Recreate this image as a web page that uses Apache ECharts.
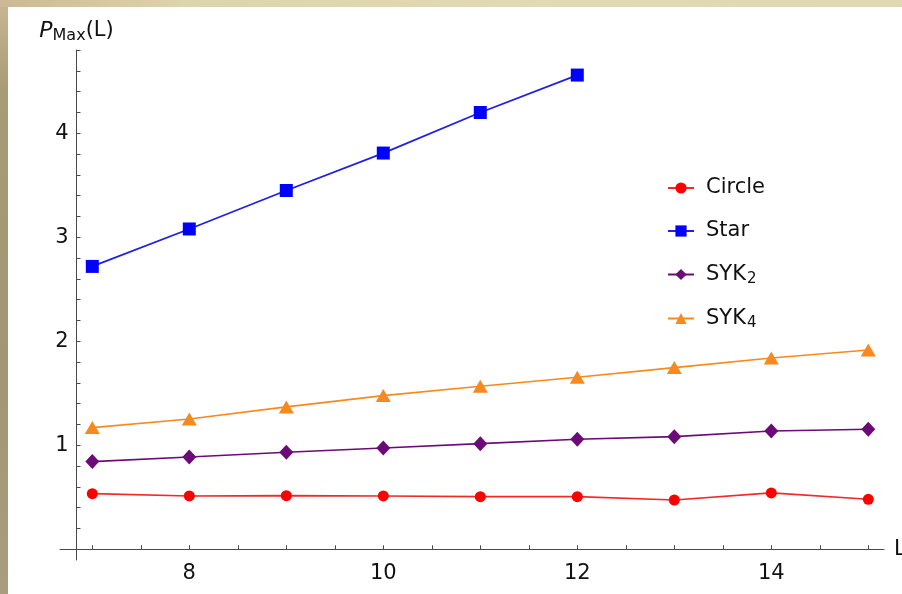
<!DOCTYPE html>
<html>
<head>
<meta charset="utf-8">
<script src="https://cdn.jsdelivr.net/npm/echarts@6/dist/echarts.min.js"></script>
<style>
  html, body { margin: 0; padding: 0; width: 902px; height: 594px; overflow: hidden; }
  body { background: linear-gradient(180deg, #c9b792 0%, #a89b78 15%, #a39674 60%, #a89d7e 100%); position: relative; }
  #topStrip { position: absolute; left: 0; top: 0; width: 902px; height: 7px;
              background: linear-gradient(90deg, #cbb994 0%, #ddd3ac 20%, #e2dab5 60%, #e0d8b2 100%); }
  #chart { position: absolute; left: 8px; top: 7px; width: 894px; height: 587px; background: #ffffff; }
</style>
</head>
<body>
<div id="topStrip"></div>
<div id="chart"></div>
<script>
// System size L on the horizontal axis
const sizes = [7, 8, 9, 10, 11, 12, 13, 14, 15];
const starSizes = [7, 8, 9, 10, 11, 12];

// P_Max(L) for each model
const circleValues = [0.535, 0.513, 0.516, 0.513, 0.506, 0.506, 0.474, 0.542, 0.481];
const starValues   = [2.72, 3.08, 3.45, 3.81, 4.20, 4.56];
const syk2Values   = [0.843, 0.888, 0.933, 0.974, 1.016, 1.058, 1.083, 1.138, 1.154];
const syk4Values   = [1.170, 1.253, 1.369, 1.478, 1.568, 1.654, 1.747, 1.840, 1.917];

// Tick positions and labels
const xTickValues  = [7, 7.5, 8, 8.5, 9, 9.5, 10, 10.5, 11, 11.5, 12, 12.5, 13, 13.5, 14, 14.5, 15];
const xLabelValues = [8, 10, 12, 14];
const yTickValues  = [0.2, 0.4, 0.6, 0.8, 1, 1.2, 1.4, 1.6, 1.8, 2, 2.2, 2.4, 2.6, 2.8, 3, 3.2, 3.4, 3.6, 3.8, 4, 4.2, 4.4, 4.6, 4.8];
const yLabelValues = [1, 2, 3, 4];

const FONT = 'DejaVu Sans';

function pairs(xs, ys) { return xs.map((x, i) => [x, ys[i]]); }

const legendText = { 'Circle': 'Circle', 'Star': 'Star', 'SYK2': 'SYK{sub|2}', 'SYK4': 'SYK{sub|4}' };

const chart = echarts.init(document.getElementById('chart'), null, { renderer: 'canvas' });

const axisColor = '#4a4a4a';

chart.setOption({
  animation: false,
  backgroundColor: '#ffffff',
  grid: { left: 52, right: 18, top: 43, bottom: 34, containLabel: false, outerBoundsMode: 'none' },
  legend: {
    orient: 'vertical',
    left: 659,
    top: 169,
    padding: 0,
    itemGap: 19,
    itemWidth: 26,
    itemHeight: 14,
    data: ['Circle', 'Star', 'SYK2', 'SYK4'],
    formatter: function (name) { return legendText[name]; },
    textStyle: {
      fontFamily: FONT, fontSize: 21, color: '#111', lineHeight: 24,
      padding: [0, 0, 0, 7],
      rich: {
        sub: { fontFamily: FONT, fontSize: 15, color: '#111', padding: [10, 0, 0, 1], lineHeight: 14 }
      }
    }
  },
  xAxis: {
    type: 'value',
    min: 6.667,
    max: 15.162,
    name: 'L',
    nameLocation: 'end',
    nameGap: 10,
    nameTextStyle: { fontFamily: FONT, fontSize: 21, color: '#111', align: 'left', verticalAlign: 'middle' },
    axisLine: { show: true, onZero: true, lineStyle: { color: axisColor, width: 1 } },
    axisTick: { show: true, inside: true, length: 4, customValues: xTickValues, lineStyle: { color: axisColor } },
    axisLabel: { customValues: xLabelValues, fontFamily: FONT, fontSize: 21, color: '#111', margin: 3 },
    splitLine: { show: false }
  },
  yAxis: {
    type: 'value',
    min: -0.103,
    max: 4.801,
    offset: -16.5,
    name: '{it|P}{sub|Max}{n|(L)}',
    nameLocation: 'end',
    nameGap: 6,
    nameTextStyle: {
      align: 'center',
      rich: {
        it: { fontFamily: FONT, fontStyle: 'italic', fontSize: 22, color: '#111', lineHeight: 26 },
        sub: { fontFamily: FONT, fontSize: 16, color: '#111', padding: [9, 0, 0, 0], lineHeight: 26 },
        n: { fontFamily: FONT, fontSize: 21, color: '#111', lineHeight: 26 }
      }
    },
    axisLine: { show: true, onZero: false, lineStyle: { color: axisColor, width: 1 } },
    axisTick: { show: true, inside: true, length: 4, customValues: yTickValues, lineStyle: { color: axisColor } },
    axisLabel: { customValues: yLabelValues, fontFamily: FONT, fontSize: 21, color: '#111', margin: 8 },
    splitLine: { show: false }
  },
  series: [
    {
      name: 'Circle', type: 'line', data: pairs(sizes, circleValues),
      symbol: 'circle', symbolSize: 11, showAllSymbol: true,
      itemStyle: { color: '#ff0000' },
      lineStyle: { color: '#f02a2a', width: 1.6 }
    },
    {
      name: 'Star', type: 'line', data: pairs(starSizes, starValues),
      symbol: 'rect', symbolSize: 13, showAllSymbol: true,
      itemStyle: { color: '#0000ff' },
      lineStyle: { color: '#1f1fe8', width: 1.8 }
    },
    {
      name: 'SYK2', type: 'line', data: pairs(sizes, syk2Values),
      symbol: 'diamond', symbolSize: [14, 15], showAllSymbol: true,
      itemStyle: { color: '#6c0a78' },
      lineStyle: { color: '#6c0a78', width: 1.6 }
    },
    {
      name: 'SYK4', type: 'line', data: pairs(sizes, syk4Values),
      symbol: 'triangle', symbolSize: [15, 13], showAllSymbol: true,
      itemStyle: { color: '#f7891e' },
      lineStyle: { color: '#f7891e', width: 1.6 }
    }
  ]
});
</script>
</body>
</html>
